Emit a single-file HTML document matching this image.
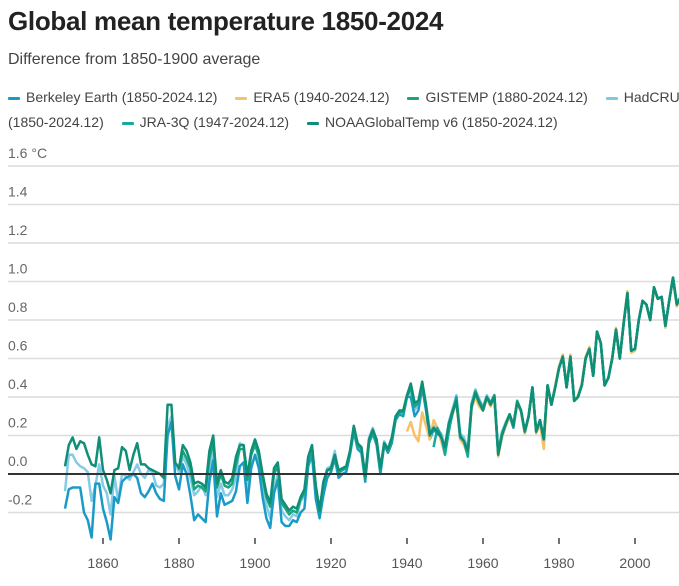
<!DOCTYPE html>
<html><head><meta charset="utf-8">
<style>
body{margin:0;width:679px;height:586px;overflow:hidden;background:#fff;font-family:"Liberation Sans",sans-serif;position:relative}
#title{position:absolute;left:8px;top:6px;font-size:26px;font-weight:bold;color:#222;letter-spacing:-0.3px}
#sub{position:absolute;left:8px;top:51px;font-size:16px;color:#444}
.lrow{position:absolute;left:8px;white-space:nowrap;font-size:14px;color:#444}
.li{display:inline-block;margin-right:14px}
.sw{display:inline-block;width:12px;height:3px;vertical-align:middle;margin-right:6px;border-radius:1px}
svg{position:absolute;left:0;top:0}
</style></head><body>
<div id="title">Global mean temperature 1850-2024</div>
<div id="sub">Difference from 1850-1900 average</div>
<div class="lrow" style="top:89px">
<span class="li"><span class="sw" style="background:#1a9bc7"></span>Berkeley Earth (1850-2024.12)</span>
<span class="li"><span class="sw" style="background:#f5c26b"></span>ERA5 (1940-2024.12)</span>
<span class="li"><span class="sw" style="background:#1aa67a"></span>GISTEMP (1880-2024.12)</span>
<span class="li"><span class="sw" style="background:#7ec8e3"></span>HadCRUT5</span>
</div>
<div class="lrow" style="top:114px">
<span class="li">(1850-2024.12)</span>
<span class="li"><span class="sw" style="background:#17a9a0"></span>JRA-3Q (1947-2024.12)</span>
<span class="li"><span class="sw" style="background:#0f8f78"></span>NOAAGlobalTemp v6 (1850-2024.12)</span>
</div>
<svg id="chart" width="679" height="586"></svg>
<script>
const yTicks=[-0.2,0,0.2,0.4,0.6,0.8,1.0,1.2,1.4,1.6];
const yTickLabels=["-0.2","0.0","0.2","0.4","0.6","0.8","1.0","1.2","1.4","1.6 °C"];
const xTicks=[1860,1880,1900,1920,1940,1960,1980,2000,2020];
const recent=[0.33,0.22,0.30,0.45,0.22,0.28,0.18,0.46,0.36,0.45,
0.55,0.61,0.45,0.61,0.38,0.40,0.46,0.60,0.65,0.51,
0.74,0.68,0.46,0.50,0.60,0.75,0.60,0.78,0.94,0.64,
0.65,0.80,0.90,0.88,0.80,0.97,0.91,0.92,0.77,0.90,
1.02,0.88,0.92,0.96,1.00,1.18,1.28,1.18,1.10,1.24,
1.27,1.11,1.15,1.38,1.47];
const era5Recent=[0.32,0.21,0.29,0.44,0.21,0.26,0.13,0.45,0.36,0.46,
0.56,0.62,0.46,0.62,0.38,0.41,0.47,0.61,0.66,0.51,
0.74,0.68,0.46,0.50,0.60,0.76,0.60,0.79,0.95,0.63,
0.64,0.80,0.90,0.88,0.80,0.96,0.91,0.92,0.76,0.90,
1.01,0.87,0.92,0.96,1.00,1.18,1.28,1.18,1.10,1.25,
1.28,1.11,1.16,1.41,1.50];
const hadcrut=[-0.09,0.10,0.10,0.06,0.04,0.03,0.01,-0.14,-0.06,0.05,
-0.06,-0.10,-0.21,-0.01,-0.14,0.00,-0.01,-0.03,0.01,0.05,
0.00,-0.02,0.02,0.01,-0.06,-0.07,-0.05,0.25,0.30,0.05,
0.01,0.09,0.05,-0.02,-0.11,-0.09,-0.06,-0.11,0.02,0.13,
-0.12,-0.05,-0.11,-0.11,-0.08,-0.02,0.16,0.15,-0.08,0.10,
0.17,0.07,-0.05,-0.16,-0.23,-0.08,0.00,-0.19,-0.22,-0.24,
-0.21,-0.22,-0.14,-0.12,0.08,0.15,-0.10,-0.19,-0.05,0.03,
0.04,0.12,0.00,0.02,0.03,0.12,0.25,0.15,0.14,-0.02,
0.19,0.24,0.17,0.02,0.17,0.13,0.18,0.30,0.33,0.32,
0.41,0.42,0.33,0.36,0.47,0.36,0.23,0.25,0.23,0.21,
0.15,0.27,0.34,0.41,0.21,0.19,0.13,0.37,0.44,0.39,
0.35,0.41,0.37,0.41,0.12,0.22,0.27,0.31,0.26,0.38].concat(recent);
const noaa=[0.04,0.15,0.19,0.13,0.17,0.16,0.10,0.05,0.04,0.19,
0.02,-0.03,-0.10,0.02,0.03,0.14,0.12,0.02,0.10,0.16,
0.05,0.05,0.03,0.02,0.01,0.00,-0.02,0.36,0.36,0.06,
0.03,0.15,0.12,0.06,-0.05,-0.04,-0.05,-0.07,0.12,0.20,
-0.05,0.02,-0.04,-0.05,-0.02,0.09,0.15,0.15,-0.01,0.12,
0.18,0.12,0.00,-0.10,-0.15,0.03,0.06,-0.13,-0.16,-0.19,
-0.17,-0.18,-0.12,-0.08,0.09,0.15,-0.06,-0.19,-0.04,0.02,
0.03,0.10,0.02,0.03,0.04,0.12,0.25,0.16,0.14,-0.01,
0.18,0.23,0.18,0.03,0.16,0.13,0.19,0.30,0.33,0.33,
0.41,0.47,0.37,0.38,0.48,0.36,0.20,0.24,0.22,0.19,
0.14,0.26,0.32,0.38,0.20,0.17,0.12,0.35,0.42,0.37,
0.33,0.40,0.36,0.40,0.10,0.20,0.26,0.31,0.25,0.37].concat(recent);
const berkeley=[-0.18,-0.08,-0.07,-0.07,-0.07,-0.20,-0.24,-0.33,-0.05,-0.05,
-0.18,-0.25,-0.34,-0.12,-0.15,-0.04,-0.02,-0.01,0.00,-0.02,
-0.10,-0.12,-0.09,-0.05,-0.10,-0.13,-0.14,0.20,0.27,-0.01,
-0.08,0.05,0.00,-0.11,-0.24,-0.21,-0.23,-0.25,-0.04,0.07,
-0.22,-0.10,-0.16,-0.15,-0.14,-0.09,0.04,0.06,-0.15,0.03,
0.10,0.03,-0.12,-0.23,-0.28,-0.10,-0.03,-0.25,-0.27,-0.27,
-0.24,-0.25,-0.20,-0.18,0.04,0.10,-0.13,-0.23,-0.11,-0.02,
0.01,0.08,-0.02,0.00,0.01,0.10,0.22,0.13,0.11,-0.04,
0.16,0.21,0.15,0.00,0.15,0.11,0.16,0.28,0.31,0.30,
0.40,0.40,0.30,0.33,0.45,0.33,0.18,0.23,0.21,0.19,
0.12,0.24,0.31,0.40,0.18,0.16,0.10,0.35,0.42,0.37,
0.33,0.39,0.36,0.40,0.10,0.20,0.25,0.30,0.24,0.37].concat(recent);
const gistemp=[0.02,0.12,0.08,0.03,-0.08,-0.06,-0.07,-0.09,0.08,0.17,
-0.07,0.00,-0.06,-0.07,-0.05,0.05,0.13,0.13,-0.03,0.10,
0.15,0.10,-0.02,-0.12,-0.17,0.00,0.04,-0.15,-0.18,-0.21,
-0.19,-0.20,-0.13,-0.10,0.08,0.14,-0.07,-0.19,-0.05,0.02,
0.02,0.10,0.01,0.02,0.03,0.11,0.24,0.15,0.13,-0.02,
0.17,0.22,0.17,0.02,0.16,0.12,0.18,0.29,0.32,0.32,
0.40,0.45,0.35,0.37,0.46,0.35,0.21,0.24,0.22,0.19,
0.13,0.26,0.33,0.39,0.19,0.17,0.11,0.36,0.43,0.38,
0.34,0.40,0.37,0.41,0.11,0.21,0.26,0.31,0.25,0.38].concat(recent);
const era5=[0.22,0.27,0.20,0.17,0.32,0.25,0.18,0.28,0.24,0.17,
0.10,0.25,0.31,0.37,0.18,0.15,0.10,0.34,0.40,0.35,
0.33,0.39,0.35,0.40,0.09,0.19,0.25,0.30,0.25,0.37].concat(era5Recent);
const jra3q=[0.14,0.24,0.20,
0.10,0.22,0.32,0.38,0.19,0.17,0.09,0.36,0.42,0.37,
0.34,0.40,0.36,0.40,0.11,0.21,0.26,0.31,0.25,0.38].concat(recent);
const seriesNames=["berkeley","era5","gistemp","hadcrut","jra3q","noaa"];
const seriesStart=[1850,1940,1880,1850,1947,1850];

const NS="http://www.w3.org/2000/svg";
const svg=document.getElementById('chart');
function xs(yr){return 65+(yr-1850)*3.8;}
function ys(v){return 474-v*192.5;}
function mk(t,a){const e=document.createElementNS(NS,t);for(const k in a)e.setAttribute(k,a[k]);svg.appendChild(e);return e;}
yTicks.forEach((v,i)=>{
  if(v!==0){const g=mk('line',{x1:8,x2:679,y1:ys(v),y2:ys(v),stroke:'#dcdcdc','stroke-width':1.5});
  
  }
  const t=mk('text',{x:8,y:ys(v)-8,'font-size':14,fill:'#666','font-family':'Liberation Sans, sans-serif'});
  t.textContent=yTickLabels[i];
  
  
});
xTicks.forEach(yr=>{
  const l=mk('line',{x1:xs(yr),x2:xs(yr),y1:538,y2:544,stroke:'#444','stroke-width':1.5});
  
  
  const t=mk('text',{x:xs(yr),y:568,'font-size':14,fill:'#555','text-anchor':'middle','font-family':'Liberation Sans, sans-serif'});
  t.textContent=yr;
  
  
});
const data={berkeley,era5,gistemp,hadcrut,jra3q,noaa};
const colors={berkeley:'#1a9bc7',era5:'#f5c26b',gistemp:'#1aa67a',hadcrut:'#86cbe6',jra3q:'#17a9a0',noaa:'#0f8f78'};
const order=["hadcrut","berkeley","era5","jra3q","gistemp","noaa"];
order.forEach(n=>{
  const i=seriesNames.indexOf(n);const arr=data[n];const s=seriesStart[i];
  const d=arr.map((v,k)=>(k?'L':'M')+xs(s+k).toFixed(1)+' '+ys(v).toFixed(1)).join(' ');
  const p=mk('path',{d:d,fill:'none',stroke:colors[n],'stroke-width':2.5,'stroke-linejoin':'round'});
  
  
});
const z=mk('line',{x1:8,x2:679,y1:ys(0),y2:ys(0),stroke:'#333','stroke-width':2});


</script>
</body></html>
